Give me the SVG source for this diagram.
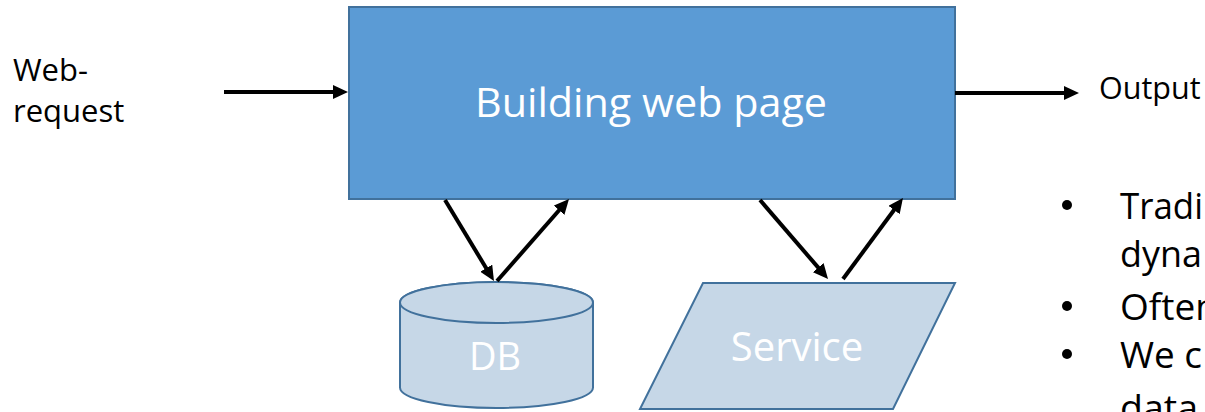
<svg xmlns="http://www.w3.org/2000/svg" width="1205" height="412" viewBox="0 0 1205 412">
  <style>
    .lbl { font-family: "Open Sans", "Liberation Sans", sans-serif; }
    .dark { fill: #000000; }
    .white { fill: #FFFFFF; }
    .conn { stroke: #000000; stroke-width: 4; fill: none; marker-end: url(#arr); }
    .node-main { fill: #5B9BD5; stroke: #41719C; stroke-width: 2; }
    .node-sub { fill: #C6D7E7; stroke: #41719C; stroke-width: 2; }
    .bl { font-size: 37px; }
  </style>
  <defs>
    <marker id="arr" markerUnits="userSpaceOnUse" viewBox="0 0 15 14" refX="5" refY="7" markerWidth="15" markerHeight="14" orient="auto">
      <path d="M0,0 L15,7 L0,14 z" fill="#000000"/>
    </marker>
  </defs>
  <rect width="1205" height="412" fill="#FFFFFF"/>

  <g id="web-request">
    <text class="lbl dark" x="13" y="81" font-size="31">Web-</text>
    <text class="lbl dark" x="13" y="122" font-size="31">request</text>
  </g>

  <g id="building">
    <rect class="node-main" x="349" y="7" width="606" height="192"/>
    <text class="lbl white" x="651" y="117" font-size="40" text-anchor="middle" textLength="352" lengthAdjust="spacingAndGlyphs">Building web page</text>
  </g>

  <g id="output">
    <text class="lbl dark" x="1099" y="99" font-size="30.5">Output</text>
  </g>

  <g id="db">
    <path class="node-sub" d="M400,302.5 L400,387.5 A96.5,20.5 0 0 0 593,387.5 L593,302.5 A96.5,20.5 0 0 0 400,302.5 Z"/>
    <ellipse class="node-sub" cx="496.5" cy="302.5" rx="96.5" ry="20.5"/>
    <text class="lbl white" x="495" y="370" font-size="38" text-anchor="middle">DB</text>
  </g>

  <g id="service">
    <polygon class="node-sub" points="703,283 955,283 893,409 640,409"/>
    <text class="lbl white" x="797" y="361" font-size="40" text-anchor="middle">Service</text>
  </g>

  <g id="bullets">
    <circle cx="1067" cy="205" r="5" fill="#000000"/>
    <text class="lbl dark bl" x="1120" y="219" textLength="83" lengthAdjust="spacingAndGlyphs">Tradi</text>
    <text class="lbl dark bl" x="1120" y="267" textLength="82" lengthAdjust="spacingAndGlyphs">dyna</text>
    <circle cx="1067" cy="306" r="5" fill="#000000"/>
    <text class="lbl dark bl" x="1120" y="320" textLength="98" lengthAdjust="spacingAndGlyphs">Often</text>
    <circle cx="1067" cy="354" r="5" fill="#000000"/>
    <text class="lbl dark bl" x="1120" y="368" textLength="82" lengthAdjust="spacingAndGlyphs">We c</text>
    <text class="lbl dark bl" x="1120" y="421" textLength="78" lengthAdjust="spacingAndGlyphs">data</text>
  </g>

  <g id="connectors">
    <line class="conn" x1="224" y1="92" x2="338" y2="92"/>
    <line class="conn" x1="955" y1="93" x2="1069" y2="93"/>
    <line class="conn" x1="445" y1="200" x2="488.8" y2="272.5"/>
    <line class="conn" x1="497" y1="281" x2="562.4" y2="206.5"/>
    <line class="conn" x1="760" y1="200" x2="821.5" y2="271.4"/>
    <line class="conn" x1="843" y1="279" x2="897" y2="206"/>
  </g>
</svg>
